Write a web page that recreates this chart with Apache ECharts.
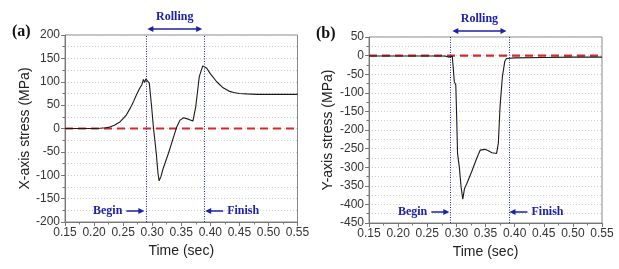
<!DOCTYPE html>
<html><head><meta charset="utf-8">
<script src="https://cdn.jsdelivr.net/npm/echarts@6/dist/echarts.min.js"></script>
<style>html,body{margin:0;padding:0;background:#fff}#c{width:619px;height:269px}</style>
</head><body><div id="c"></div>
<script>
// ---- data ----
const xTicks = [0.15, 0.20, 0.25, 0.30, 0.35, 0.40, 0.45, 0.50, 0.55];
const aTime = [0.15, 0.18, 0.20, 0.21, 0.22, 0.227, 0.235, 0.245, 0.255, 0.262, 0.268, 0.273, 0.278, 0.282, 0.285, 0.287, 0.289, 0.2917, 0.295, 0.299, 0.302, 0.307, 0.310, 0.312, 0.315, 0.319, 0.328, 0.336, 0.342, 0.348, 0.354, 0.362, 0.370, 0.375, 0.381, 0.387, 0.394, 0.3996, 0.411, 0.422, 0.432, 0.440, 0.450, 0.463, 0.48, 0.50, 0.52, 0.55];
const aStress = [0, 0, 0, 0.5, 1.5, 3, 7, 14.5, 28, 43, 58, 72, 85, 93, 105, 98, 106, 109, 97, 47, 4, -53, -96, -112, -103, -85, -53, -21, 2.5, 18, 23, 20, 16, 47, 111, 134, 129, 118, 100, 87, 80, 77, 75, 74, 73, 73, 73, 73];
const bTime = [0.15, 0.20, 0.25, 0.275, 0.282, 0.286, 0.289, 0.293, 0.2965, 0.299, 0.3005, 0.302, 0.305, 0.308, 0.311, 0.314, 0.318, 0.326, 0.335, 0.341, 0.349, 0.355, 0.361, 0.369, 0.372, 0.375, 0.379, 0.383, 0.386, 0.40, 0.45, 0.50, 0.55];
const bStress = [-1, -1, -1, -1, -1.5, -4, -6, -2, -70, -79, -164, -263, -299, -352, -386, -357, -344, -313, -276, -254, -252, -256, -261, -263, -236, -137, -57, -16, -8, -6, -5, -4, -4];
const aRange = [-200, 200];
const bRange = [-450, 50];
const aMarks = [0.2917, 0.386];   // begin, finish
const bMarks = [0.293, 0.386];
const panelLabels = ['(a)', '(b)'];
const yTitles = ['X-axis stress (MPa)', 'Y-axis stress (MPa)'];
const xTitle = 'Time (sec)';

const pairs = (t, v) => t.map((x, i) => [x, v[i]]);
const blue = '#1c22a8';
const chart = echarts.init(document.getElementById('c'), null, {renderer: 'canvas'});

function xAxisCfg(g) {
  return {
    type: 'value', gridIndex: g, min: 0.15, max: 0.55, interval: 0.05,
    name: xTitle, nameLocation: 'middle', nameGap: 21,
    nameTextStyle: {fontFamily: 'Liberation Sans', fontSize: 14, color: '#222'},
    axisLine: {onZero: false, lineStyle: {color: '#777'}},
    axisTick: {show: true, length: 4, lineStyle: {color: '#777'}},
    minorTick: {show: true, splitNumber: 2, length: 2.5, lineStyle: {color: '#777'}},
    splitLine: {show: false},
    axisLabel: {fontFamily: 'Liberation Sans', fontSize: 12, color: '#333', margin: 5,
      formatter: v => v.toFixed(2)}
  };
}
function yAxisCfg(g, r, gap) {
  return {
    type: 'value', gridIndex: g, min: r[0], max: r[1], interval: 50,
    name: yTitles[g], nameLocation: 'middle', nameGap: gap,
    nameTextStyle: {fontFamily: 'Liberation Sans', fontSize: 14, color: '#222'},
    axisLine: {show: true, lineStyle: {color: '#777'}},
    axisTick: {show: true, length: 4, lineStyle: {color: '#777'}},
    minorTick: {show: true, splitNumber: 2, length: 2.5, lineStyle: {color: '#777'}},
    splitLine: {show: true, lineStyle: {color: '#cfcfcf', type: [1, 2], width: 1}},
    minorSplitLine: {show: true, lineStyle: {color: '#cfcfcf', type: [1, 2], width: 1}},
    axisLabel: {fontFamily: 'Liberation Sans', fontSize: 12, color: '#333', margin: 5}
  };
}
function markLines(m) {
  return {
    silent: true, symbol: 'none', label: {show: false},
    lineStyle: {color: blue, type: [1, 1.5], width: 1},
    data: m.map(x => ({xAxis: x}))
  };
}
chart.setOption({
  animation: false,
  grid: [
    {left: 65, top: 35, width: 232.5, height: 187, show: true, borderColor: '#888', borderWidth: 1, containLabel: false},
    {left: 369, top: 37, width: 233, height: 186, show: true, borderColor: '#888', borderWidth: 1, containLabel: false}
  ],
  xAxis: [xAxisCfg(0), xAxisCfg(1)],
  yAxis: [yAxisCfg(0, aRange, 31), yAxisCfg(1, bRange, 34)],
  series: [
    {type: 'line', xAxisIndex: 0, yAxisIndex: 0, data: [[0.15, 0], [0.55, 0]], symbol: 'none',
     lineStyle: {color: '#d42a2a', width: 2.2, type: [8, 5]}, z: 3},
    {type: 'line', xAxisIndex: 1, yAxisIndex: 1, data: [[0.15, 0], [0.55, 0]], symbol: 'none',
     lineStyle: {color: '#d42a2a', width: 2.2, type: [8, 5]}, z: 3},
    {type: 'line', xAxisIndex: 0, yAxisIndex: 0, data: pairs(aTime, aStress), symbol: 'none',
     lineStyle: {color: '#1a1a1a', width: 1.1}, z: 4, markLine: markLines(aMarks)},
    {type: 'line', xAxisIndex: 1, yAxisIndex: 1, data: pairs(bTime, bStress), symbol: 'none',
     lineStyle: {color: '#1a1a1a', width: 1.1}, z: 4, markLine: markLines(bMarks)}
  ]
});

// annotations positioned via the axes' own scales
const graphics = [];
const serif = 'bold 12px "Liberation Serif", "DejaVu Serif", serif';
function arrowHead(x, y, dir) {
  return {type: 'polygon', shape: {points: [[x, y], [x - dir * 6, y - 3], [x - dir * 6, y + 3]]},
    style: {fill: blue}, silent: true};
}
[[0, aMarks, aRange], [1, bMarks, bRange]].forEach(([g, m, r]) => {
  const p0 = chart.convertToPixel({gridIndex: g}, [m[0], r[1]]);
  const p1 = chart.convertToPixel({gridIndex: g}, [m[1], r[0]]);
  const topY = p0[1], botY = p1[1];
  const xl = chart.convertToPixel({gridIndex: g}, [0.15, r[1]])[0];
  // panel label
  graphics.push({type: 'text', left: xl - 53, top: topY - 11,
    style: {text: panelLabels[g], font: 'bold 16px "Liberation Serif", serif', fill: '#111'}});
  // Rolling
  const cx = (p0[0] + p1[0]) / 2;
  graphics.push({type: 'text', x: cx, y: topY - 18, style: {text: 'Rolling', font: serif, fill: blue, align: 'center', verticalAlign: 'middle'}});
  const ay = topY - 6;
  graphics.push({type: 'line', shape: {x1: p0[0] + 3, y1: ay, x2: p1[0] - 3, y2: ay}, style: {stroke: blue, lineWidth: 1.5}});
  graphics.push(arrowHead(p0[0], ay, -1));
  graphics.push(arrowHead(p1[0], ay, 1));
  // Begin / Finish
  const ty = botY - 11;
  graphics.push({type: 'text', x: p0[0] - 25, y: ty, style: {text: 'Begin', font: serif, fill: blue, align: 'right', verticalAlign: 'middle'}});
  graphics.push({type: 'line', shape: {x1: p0[0] - 21, y1: ty, x2: p0[0] - 6, y2: ty}, style: {stroke: blue, lineWidth: 1.5}});
  graphics.push(arrowHead(p0[0] - 3, ty, 1));
  graphics.push({type: 'text', x: p1[0] + 25, y: ty, style: {text: 'Finish', font: serif, fill: blue, align: 'left', verticalAlign: 'middle'}});
  graphics.push({type: 'line', shape: {x1: p1[0] + 21, y1: ty, x2: p1[0] + 6, y2: ty}, style: {stroke: blue, lineWidth: 1.5}});
  graphics.push(arrowHead(p1[0] + 3, ty, -1));
});
chart.setOption({graphic: graphics});
</script></body></html>
